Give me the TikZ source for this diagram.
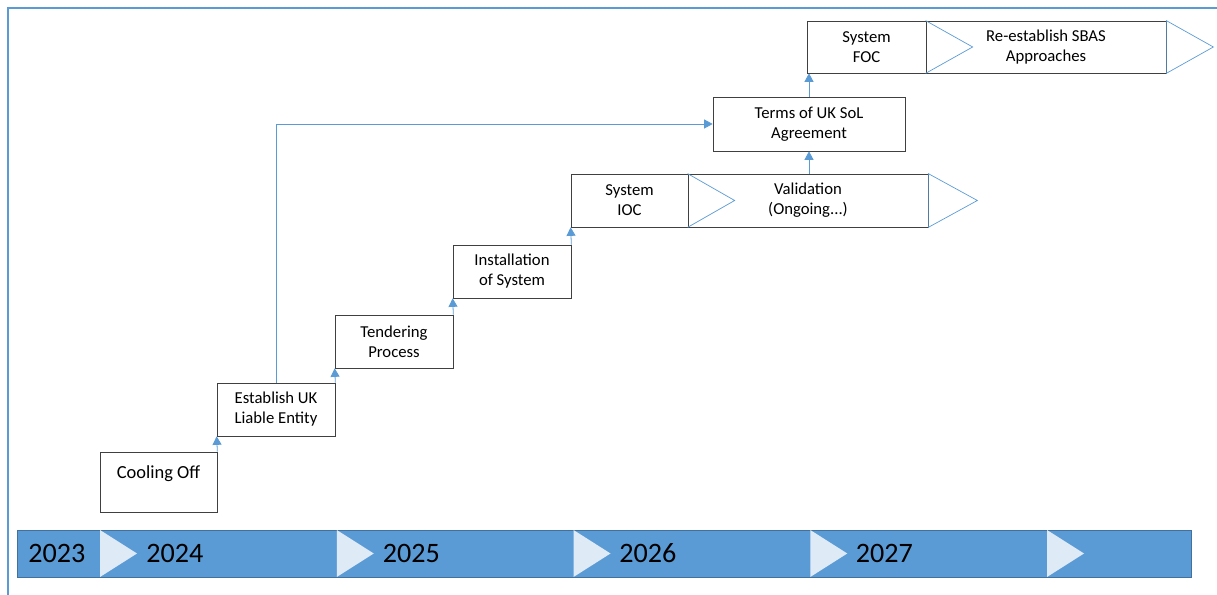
\documentclass[tikz,border=0pt]{standalone}
\usepackage{fontspec}
\setmainfont{Carlito}
\usetikzlibrary{arrows.meta,positioning,calc}
\definecolor{barblue}{HTML}{5B9BD5}
\definecolor{bardark}{HTML}{41719C}
\definecolor{chevlight}{HTML}{DEEBF7}
\definecolor{boxline}{HTML}{404040}

\begin{document}
\begin{tikzpicture}[
    every node/.style={font=\fontsize{9.5}{11.4}\selectfont},
    stage/.style={rectangle, draw=boxline, thin, fill=white, align=center,
        minimum width=2.36cm, minimum height=1.06cm, inner sep=1pt},
    wide/.style={stage, minimum width=4.8cm},
    year/.style={anchor=west, inner sep=0pt, font=\fontsize{16}{19}\selectfont},
    chev/.style={draw=barblue, thin},
    arr/.style={-{Triangle[length=1.7mm, width=1.8mm]}, draw=barblue, line width=0.45pt},
]
\useasboundingbox (0,0) rectangle (24.34,11.9);

% Frame
\draw[barblue, line width=1.1pt] (0.16,0) -- (0.16,11.74) -- (24.34,11.74);

% Timeline bar
\node[rectangle, draw=bardark, fill=barblue, minimum width=23.48cm,
    minimum height=0.94cm, inner sep=0pt] (bar) at (12.08,0.83) {};
\foreach \cx in {2.0,6.735,11.47,16.205,20.94}
    \fill[chevlight] (\cx,1.30) -- (\cx+0.74,0.83) -- (\cx,0.36) -- cycle;

% Years
\node[year] (y2023) at (0.56,0.83)  {2023};
\node[year] (y2024) at (2.92,0.83)  {2024};
\node[year] (y2025) at (7.65,0.83)  {2025};
\node[year] (y2026) at (12.38,0.83) {2026};
\node[year] (y2027) at (17.11,0.83) {2027};

% Steps
\node[stage, minimum width=2.34cm, minimum height=1.2cm,
    font=\fontsize{10.5}{11.4}\selectfont] (cool) at (3.17,2.26) {Cooling Off\\~};
\node[stage] (est)  at (5.52,3.71)  {Establish UK\\Liable Entity};
\node[stage] (tend) at (7.88,5.07)  {Tendering\\Process};
\node[stage] (inst) at (10.24,6.47) {Installation\\of System};

% Row: IOC and validation
\node[stage, minimum width=2.34cm] (ioc) at (12.59,7.89) {System\\IOC};
\node[wide] (val) at (16.16,7.89) {Validation\\(Ongoing...)};

% Row: SoL agreement
\node[stage, minimum width=3.84cm, minimum height=1.08cm] (terms) at (16.18,9.42)
    {Terms of UK SoL\\Agreement};

% Row: FOC and SBAS
\node[stage, minimum width=2.38cm, minimum height=1.04cm] (foc) at (17.33,10.96) {System\\FOC};
\node[wide, minimum height=1.04cm] (sbas) at (20.92,10.96) {Re-establish SBAS\\Approaches};

% Chevron outlines
\draw[chev] (val.north west) -- ($(val.west)+(0.94,0)$) -- (val.south west);
\draw[chev] (val.north east) -- ($(val.east)+(0.98,0)$) -- (val.south east) -- cycle;
\draw[chev] (sbas.north west) -- ($(sbas.west)+(0.94,0)$) -- (sbas.south west);
\draw[chev] (sbas.north east) -- ($(sbas.east)+(0.94,0)$) -- (sbas.south east) -- cycle;

% Arrows
\draw[arr] (cool.north east) -- (est.south west);
\draw[arr] (est.north east)  -- (tend.south west);
\draw[arr] (tend.north east) -- (inst.south west);
\draw[arr] (inst.north east) -- (ioc.south west);
\draw[arr] (terms.south |- val.north) -- (terms.south);
\draw[arr] (terms.north) -- (terms.north |- foc.south);
\draw[arr] (est.north) |- (terms.west);

\end{tikzpicture}
\end{document}
